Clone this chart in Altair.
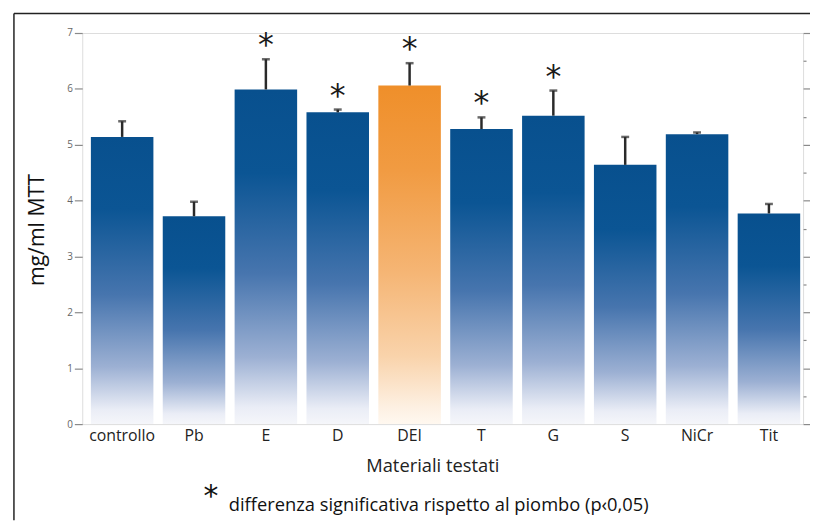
import altair as alt
import pandas as pd

cats = ["controllo", "Pb", "E", "D", "DEI", "T", "G", "S", "NiCr", "Tit"]
means = [5.14, 3.72, 5.99, 5.58, 6.06, 5.28, 5.52, 4.64, 5.19, 3.77]
upper = [5.42, 3.98, 6.53, 5.63, 6.46, 5.49, 5.97, 5.14, 5.22, 3.94]
signif = [False, False, True, True, True, True, True, False, False, False]
y_ticks = [0, 0.5, 1, 1.5, 2, 2.5, 3, 3.5, 4, 4.5, 5, 5.5, 6, 6.5, 7]

y_title = "mg/ml MTT"
x_title = "Materiali testati"
note = "differenza significativa rispetto al piombo (p\u20390,05)"

df = pd.DataFrame({"cat": cats, "mean": means, "upper": upper,
                   "star": ["*" if s else "" for s in signif]})

W, H = 728, 395
FONT = "Open Sans"

xenc = alt.X("cat:N", sort=cats,
             scale=alt.Scale(paddingInner=0.13, paddingOuter=0.08, align=0.75),
             axis=alt.Axis(title=None, labelAngle=0, domain=False, ticks=False,
                           labelFont=FONT, labelFontSize=16, labelColor="#222",
                           labelPadding=4))
yscale = alt.Scale(domain=[0, 7], nice=False, zero=True)

tick_size = {"condition": {"test": "datum.value % 1 !== 0", "value": 3}, "value": 8}
left_axis = alt.Axis(title=None, values=y_ticks, domain=False, grid=False, format="d",
                     tickSize=tick_size, tickColor="#8a8a8a", tickWidth=1.2,
                     labelExpr="datum.value % 1 ? '' : datum.label",
                     labelFont=FONT, labelFontSize=10, labelColor="#666", labelPadding=2)
right_axis = alt.Axis(title=None, orient="right", values=y_ticks, domain=False, grid=False,
                      tickSize=tick_size, tickColor="#8a8a8a", tickWidth=1.2, labels=False)

blue = alt.Gradient(gradient="linear", x1=0, y1=0, x2=0, y2=1, stops=[
    alt.GradientStop(offset=0, color="#08508e"),
    alt.GradientStop(offset=0.25, color="#0b5594"),
    alt.GradientStop(offset=0.55, color="#4775ae"),
    alt.GradientStop(offset=0.8, color="#9cb0d3"),
    alt.GradientStop(offset=0.95, color="#eaedf6"),
    alt.GradientStop(offset=1, color="#f5f6fa")])
orange = alt.Gradient(gradient="linear", x1=0, y1=0, x2=0, y2=1, stops=[
    alt.GradientStop(offset=0, color="#ef8f2a"),
    alt.GradientStop(offset=0.25, color="#f19b42"),
    alt.GradientStop(offset=0.55, color="#f5b574"),
    alt.GradientStop(offset=0.8, color="#f9d3ab"),
    alt.GradientStop(offset=0.95, color="#fdf0e2"),
    alt.GradientStop(offset=1, color="#fff8f0")])

base = alt.Chart(df)

bars_blue = base.transform_filter("datum.cat != 'DEI'").mark_bar(color=blue).encode(
    x=xenc, y=alt.Y("mean:Q", scale=yscale, axis=left_axis))
bars_orange = base.transform_filter("datum.cat == 'DEI'").mark_bar(color=orange).encode(
    x=xenc, y=alt.Y("mean:Q", scale=yscale, axis=None))
right = base.mark_point(opacity=0).encode(
    x=xenc, y=alt.Y("mean:Q", scale=yscale, axis=right_axis))
stems = base.mark_rule(color="#2a2a2a", strokeWidth=2.5).encode(
    x=xenc, y=alt.Y("mean:Q", scale=yscale, axis=None), y2="upper:Q")
caps = base.mark_tick(color="#2a2a2a", thickness=2.5, size=8).encode(
    x=xenc, y=alt.Y("upper:Q", scale=yscale, axis=None))
stars = base.mark_text(font="DejaVu Sans", fontSize=32, baseline="middle", dy=-14,
                       color="#1a1a1a").encode(
    x=xenc, y=alt.Y("upper:Q", scale=yscale, axis=None), text="star:N")

one = pd.DataFrame({"t": [y_title], "x": [x_title], "n": [note], "s": ["*"]})
ob = alt.Chart(one)
ytitle = ob.mark_text(angle=270, font=FONT, fontSize=21.5, color="#111",
                      align="center", baseline="middle").encode(
    x=alt.value(-45), y=alt.value(199), text="t:N")
xtitle = ob.mark_text(font=FONT, fontSize=18.5, color="#222",
                      align="center", baseline="middle").encode(
    x=alt.value(354), y=alt.value(437), text="x:N")
note_star = ob.mark_text(font="DejaVu Sans", fontSize=30, color="#111",
                         align="center", baseline="middle").encode(
    x=alt.value(130), y=alt.value(469), text="s:N")
note_txt = ob.mark_text(font=FONT, fontSize=18.5, color="#111",
                        align="left", baseline="middle").encode(
    x=alt.value(148), y=alt.value(477), text="n:N")
frame_top = ob.mark_rule(color="#222", strokeWidth=1.5).encode(
    x=alt.value(-69), x2=alt.value(735), y=alt.value(-19.7))
frame_left = ob.mark_rule(color="#222", strokeWidth=1.5).encode(
    x=alt.value(-69), y=alt.value(-19.7), y2=alt.value(492))

chart = alt.layer(bars_blue, bars_orange, right, stems, caps, stars,
                  ytitle, xtitle, note_star, note_txt, frame_top, frame_left
                  ).resolve_axis(y="independent").properties(
    width=W, height=H,
    autosize=alt.AutoSizeParams(type="none"),
    padding={"left": 75, "top": 22.7, "right": 7, "bottom": 96},
).configure_view(stroke="#8c8c8c", strokeWidth=1.8).configure(background="white")

chart.save("out.html", embed_options={"renderer": "svg", "actions": False})
